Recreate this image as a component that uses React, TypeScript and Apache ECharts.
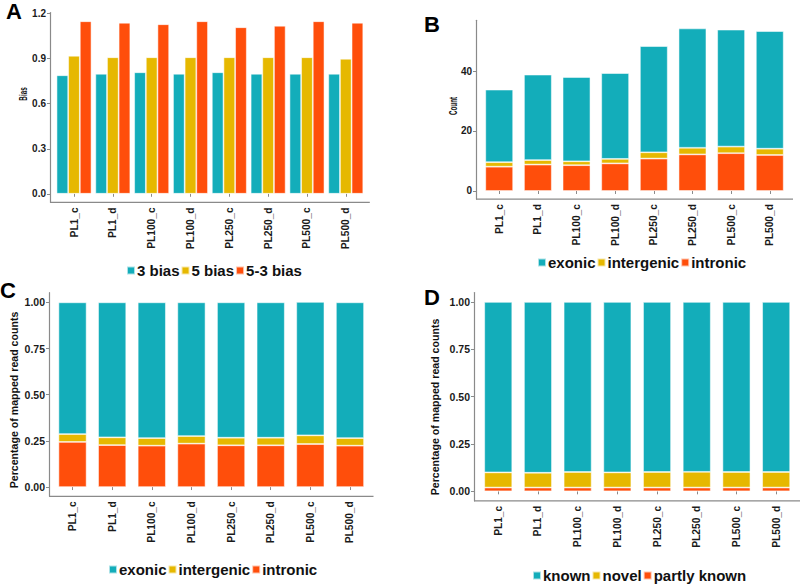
import React, { useEffect, useRef } from "react";
import * as echarts from "echarts";

const categories = ["PL1_c", "PL1_d", "PL100_c", "PL100_d", "PL250_c", "PL250_d", "PL500_c", "PL500_d"];

// Panel A: bias
const biasNames = ["3 bias", "5 bias", "5-3 bias"];
const bias3 = [0.79, 0.8, 0.81, 0.8, 0.81, 0.8, 0.8, 0.8];
const bias5 = [0.92, 0.91, 0.91, 0.91, 0.91, 0.91, 0.91, 0.9];
const bias53 = [1.15, 1.14, 1.13, 1.15, 1.11, 1.12, 1.15, 1.14];
const biasTicks = [0, 0.3, 0.6, 0.9, 1.2];

// Panel B: counts
const regionNames = ["exonic", "intergenic", "intronic"];
const countExonic = [24.2, 28.5, 28.1, 28.6, 35.4, 39.8, 39.0, 39.2];
const countIntergenic = [1.5, 1.5, 1.3, 1.5, 2.1, 2.2, 2.2, 2.1];
const countIntronic = [8.1, 8.8, 8.6, 9.2, 10.8, 12.2, 12.6, 12.0];
const countTicks = [0, 20, 40];

// Panel C: percentage by region
const pctExonic = [0.713, 0.731, 0.735, 0.724, 0.733, 0.733, 0.722, 0.735];
const pctIntergenic = [0.043, 0.042, 0.041, 0.041, 0.041, 0.041, 0.047, 0.041];
const pctIntronic = [0.244, 0.227, 0.224, 0.235, 0.226, 0.226, 0.233, 0.224];

// Panel D: percentage by annotation
const annotNames = ["known", "novel", "partly known"];
const pctKnown = [0.9, 0.902, 0.898, 0.9, 0.898, 0.897, 0.898, 0.898];
const pctNovel = [0.08, 0.078, 0.082, 0.08, 0.082, 0.083, 0.082, 0.082];
const pctPartly = [0.02, 0.02, 0.02, 0.02, 0.02, 0.02, 0.02, 0.02];
const pctTicks = [0, 0.25, 0.5, 0.75, 1.0];

const TEAL = "#13ADBA";
const GOLD = "#E6B800";
const RED = "#FF4E0B";
const AXIS = "#8a8a8a";
const FONT = "Liberation Sans, Arial, sans-serif";

type Panel = {
  left: number; top: number; width: number; height: number; offset: number;
};
const grids: Panel[] = [
  { left: 54.6, top: 12.6, width: 310.6, height: 189.8, offset: 4.6 },
  { left: 479.9, top: 20.3, width: 309.2, height: 178.8, offset: 3.9 },
  { left: 52.7, top: 292.7, width: 317.1, height: 203.6, offset: 3.7 },
  { left: 478.4, top: 292.5, width: 317.6, height: 208.3, offset: 4.4 },
];

function sumMax(...arrs: number[][]) {
  let m = 0;
  for (let i = 0; i < arrs[0].length; i++) {
    let s = 0;
    arrs.forEach((a) => (s += a[i]));
    m = Math.max(m, s);
  }
  return m;
}

export default function App() {
  const ref = useRef<HTMLDivElement>(null);
  useEffect(() => {
    if (!ref.current) return;
    const chart = echarts.init(ref.current, null, { renderer: "svg" });

    const maxA = Math.max(...bias3, ...bias5, ...bias53);
    const maxB = sumMax(countExonic, countIntergenic, countIntronic);
    const maxC = sumMax(pctExonic, pctIntergenic, pctIntronic);
    const maxD = sumMax(pctKnown, pctNovel, pctPartly);
    const ranges = [maxA, maxB, maxC, maxD].map((m) => [-0.05 * m, m * 1.05]);

    const yTicks = [biasTicks, countTicks, pctTicks, pctTicks];
    const yFmt = [
      (v: number) => v.toFixed(1),
      (v: number) => String(Math.round(v)),
      (v: number) => v.toFixed(2),
      (v: number) => v.toFixed(2),
    ];
    const tickFont = [10, 10, 10.5, 10.5];

    const labelStyle = { color: "#1a1a1a", fontWeight: "bold" as const, fontSize: 10, fontFamily: FONT };

    const xAxis = grids.map((g, i) => ({
      type: "category",
      gridIndex: i,
      data: categories,
      axisLine: { show: false },
      axisTick: { show: true, alignWithLabel: true, length: 3, lineStyle: { color: AXIS } },
      axisLabel: { ...labelStyle, fontSize: 10.2, rotate: 90, margin: 5, interval: 0 },
      splitLine: { show: false },
    }));

    const yAxis = grids.map((g, i) => ({
      type: "value",
      gridIndex: i,
      min: ranges[i][0],
      max: ranges[i][1],
      offset: g.offset,
      axisLine: { show: true, lineStyle: { color: AXIS, width: 1.2 } },
      axisTick: { show: true, length: 3, customValues: yTicks[i], lineStyle: { color: AXIS } },
      axisLabel: { ...labelStyle, fontSize: tickFont[i], customValues: yTicks[i], formatter: yFmt[i], margin: 4 },
      splitLine: { show: false },
    }));

    const border = { borderColor: "rgba(255,255,255,0.65)", borderWidth: 0.8 };
    const stackSeries = (idx: number, names: string[], data: number[][], width: string) =>
      [2, 1, 0].map((k) => ({
        type: "bar",
        name: names[k],
        xAxisIndex: idx,
        yAxisIndex: idx,
        stack: "s" + idx,
        barWidth: width,
        data: data[k],
        itemStyle: { color: [TEAL, GOLD, RED][k], ...border },
      }));

    const series: any[] = [
      ...[bias3, bias5, bias53].map((d, k) => ({
        type: "bar",
        name: biasNames[k],
        xAxisIndex: 0,
        yAxisIndex: 0,
        barGap: "0%",
        barCategoryGap: "10%",
        data: d,
        itemStyle: { color: [TEAL, GOLD, RED][k], ...border },
      })),
      ...stackSeries(1, regionNames, [countExonic, countIntergenic, countIntronic], "72%"),
      ...stackSeries(2, regionNames, [pctExonic, pctIntergenic, pctIntronic], "71%"),
      ...stackSeries(3, annotNames, [pctKnown, pctNovel, pctPartly], "70.5%"),
    ];

    const legendText = {
      color: "#111",
      fontWeight: "bold" as const,
      fontSize: 15,
      fontFamily: FONT,
      padding: [0, 0, 0, -3],
    };
    const legendPos = [
      { left: 126, top: 263, data: biasNames },
      { left: 537, top: 255, data: regionNames },
      { left: 108, top: 562, data: regionNames },
      { left: 532, top: 568, data: annotNames },
    ];
    const legend = legendPos.map((p) => ({
      ...p,
      orient: "horizontal",
      icon: "rect",
      itemWidth: 8,
      itemHeight: 8,
      itemGap: 1,
      padding: 0,
      selectedMode: false,
      textStyle: legendText,
    }));

    const axisLines = grids.map((g) => ({
      type: "line",
      silent: true,
      shape: {
        x1: g.left - g.offset,
        y1: g.top + g.height,
        x2: g.left + g.width + g.offset,
        y2: g.top + g.height,
      },
      style: { stroke: AXIS, lineWidth: 1.2 },
    }));

    const yTitles = [
      { t: "Bias", x: 23, y: 94, size: 10.5, sx: 0.6 },
      { t: "Count", x: 453, y: 106, size: 10.5, sx: 0.6 },
      { t: "Percentage of mapped read counts", x: 13.5, y: 400, size: 10.6, sx: 1 },
      { t: "Percentage of mapped read counts", x: 435, y: 407, size: 10.6, sx: 1 },
    ].map((l) => ({
      type: "text",
      x: l.x,
      y: l.y,
      rotation: Math.PI / 2,
      scaleX: l.sx,
      style: {
        text: l.t,
        fill: "#111",
        font: `bold ${l.size}px ${FONT}`,
        textAlign: "center",
        textVerticalAlign: "middle",
      },
    }));

    const letters = [
      { t: "A", x: 14, y: 11 },
      { t: "B", x: 432, y: 24 },
      { t: "C", x: 8, y: 290 },
      { t: "D", x: 432, y: 297 },
    ].map((l) => ({
      type: "text",
      x: l.x,
      y: l.y,
      style: {
        text: l.t,
        fill: "#000",
        font: `bold 22px ${FONT}`,
        textAlign: "center",
        textVerticalAlign: "middle",
      },
    }));

    chart.setOption({
      animation: false,
      backgroundColor: "#fff",
      grid: grids.map((g) => ({ left: g.left, top: g.top, width: g.width, height: g.height })),
      xAxis,
      yAxis,
      legend,
      series,
      graphic: [...axisLines, ...yTitles, ...letters],
    });
    return () => chart.dispose();
  }, []);
  return <div ref={ref} style={{ position: "absolute", left: 0, top: 0, width: 800, height: 584 }} />;
}
